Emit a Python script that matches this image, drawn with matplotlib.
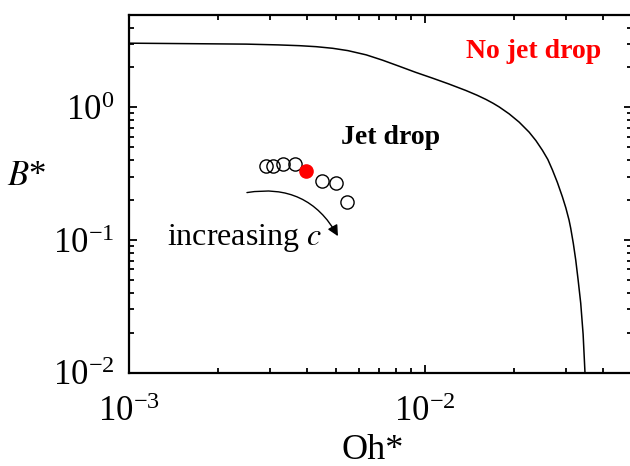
import matplotlib
matplotlib.use("Agg")
import matplotlib.pyplot as plt
from matplotlib.ticker import LogLocator, NullFormatter

# boundary between jet drop / no jet drop
oh_curve = [1.0e-3, 1.74e-3, 2.5e-3, 3.2e-3, 3.78e-3, 4.3e-3, 4.89e-3, 5.5e-3,
            6.34e-3, 7.2e-3, 8.21e-3, 9.3e-3, 1.063e-2, 1.2e-2, 1.376e-2,
            1.5e-2, 1.607e-2, 1.7e-2, 1.782e-2, 1.925e-2, 2.08e-2, 2.248e-2,
            2.37e-2, 2.493e-2, 2.6e-2, 2.694e-2, 2.8e-2, 2.911e-2, 2.99e-2,
            3.065e-2, 3.106e-2, 3.17e-2, 3.229e-2, 3.29e-2, 3.357e-2, 3.42e-2,
            3.47e-2]
b_curve = [3.05, 3.02, 3.0, 2.96, 2.92, 2.87, 2.79, 2.68,
           2.49, 2.27, 2.04, 1.84, 1.66, 1.507, 1.341,
           1.236, 1.149, 1.074, 1.008, 0.894, 0.775, 0.651,
           0.562, 0.475, 0.405, 0.338, 0.272, 0.212, 0.175,
           0.1418, 0.1227, 0.094, 0.0708, 0.05, 0.0334, 0.0195,
           0.01]

# open circles (varying c) and the highlighted case
oh_points = [2.92e-3, 3.07e-3, 3.32e-3, 3.66e-3, 4.51e-3, 5.0e-3, 5.45e-3]
b_points = [0.364, 0.364, 0.375, 0.375, 0.281, 0.268, 0.195]
oh_red = [3.98e-3]
b_red = [0.333]

plt.rcParams["font.family"] = ["Liberation Serif", "DejaVu Serif"]
plt.rcParams["mathtext.fontset"] = "stix"

fig = plt.figure(figsize=(6.3, 4.66), dpi=100)
ax = fig.add_axes([128.5 / 630, (466 - 372.7) / 466, (632 - 128.5) / 630, (372.7 - 14.7) / 466])

ax.plot(oh_curve, b_curve, color="black", lw=1.1)
ax.plot(oh_points, b_points, "o", ms=9.5, mfc="none", mec="black", mew=1.0)
ax.plot(oh_red, b_red, "o", ms=9.5, mfc="red", mec="red")

ax.set_xscale("log")
ax.set_yscale("log")
ax.set_xlim(1e-3, 5e-2)
ax.set_ylim(1e-2, 5)

ax.xaxis.set_major_locator(LogLocator(base=10, numticks=10))
ax.xaxis.set_minor_locator(LogLocator(base=10, subs=range(2, 10), numticks=20))
ax.yaxis.set_minor_locator(LogLocator(base=10, subs=range(2, 10), numticks=20))
ax.xaxis.set_minor_formatter(NullFormatter())
ax.yaxis.set_minor_formatter(NullFormatter())

ax.tick_params(which="both", direction="in", top=True, right=True, width=1.3, labelsize=25)
ax.tick_params(which="major", length=6)
ax.tick_params(which="minor", length=3.5)
ax.tick_params(axis="x", which="major", pad=17)
ax.tick_params(axis="y", which="major", pad=10)
for s in ax.spines.values():
    s.set_linewidth(1.6)

ax.set_xlabel("Oh*", fontsize=26)
ax.xaxis.set_label_coords(0.485, -0.172)
ax.set_ylabel("$B$*", fontsize=25, rotation=0, ha="center", va="center")
ax.yaxis.set_label_coords(-0.2016, 0.547)

fig.text(534 / 630, 1 - 52 / 466, "No jet drop", color="red", fontsize=20,
         fontweight="bold", ha="center", va="center")
fig.text(391 / 630, 1 - 137 / 466, "Jet drop", color="black", fontsize=20,
         fontweight="bold", ha="center", va="center")
fig.text(245 / 630, 1 - 238 / 466, "increasing $c$", fontsize=23,
         ha="center", va="center")

ax.annotate("", xy=(5.09e-3, 0.107), xytext=(2.51e-3, 0.228),
            arrowprops=dict(arrowstyle="-|>", color="black", lw=1.0,
                            mutation_scale=16, shrinkA=0, shrinkB=0,
                            connectionstyle="arc3,rad=-0.35"))

fig.savefig("out.png", dpi=100)
